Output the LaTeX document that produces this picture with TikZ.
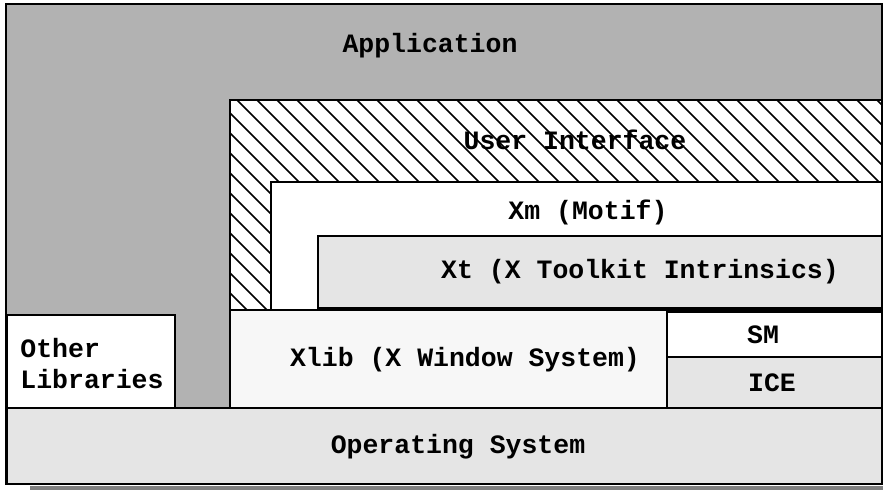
\documentclass[tikz,border=0pt]{standalone}
\usepackage{fontspec}
\setmonofont{Liberation Mono}
\begin{document}
\begin{tikzpicture}[x=0.5pt,y=-0.5pt,
  layer/.style={draw=black,line width=0.75pt},
  hatch/.style={black,line width=0.75pt},
  lbl/.style={font=\ttfamily\bfseries\fontsize{13.25}{15.5}\selectfont,inner sep=0pt}]
  \useasboundingbox (0,0) rectangle (883,490);
  % Application
  \fill[black!50] (30,486) rectangle (883,490);
  \draw[layer,fill=black!30,line width=1pt] (6,4) rectangle (882,484);
  % User Interface (hatched)
  \fill[white] (230,100) rectangle (882,310);
  \begin{scope}
    \clip (230,100) rectangle (882,310);
    \foreach \k in {-11,...,33}
      \draw[hatch] ({237+20*\k},100) -- ++(300,300);
  \end{scope}
  \draw[layer] (230,100) rectangle (882,310);
  % Xm and Xt
  \draw[layer,fill=white] (271,182) rectangle (882,310);
  \draw[layer,fill=black!10] (318,236) rectangle (882,308);
  % Xlib, SM, ICE
  \draw[layer,fill=black!3] (230,310) rectangle (667,408);
  \draw[layer,fill=white] (667,312) rectangle (882,357);
  \draw[layer,fill=black!10] (667,357) rectangle (882,408);
  % Other Libraries
  \draw[layer,fill=white] (7,315) rectangle (175,408);
  % Operating System
  \draw[layer,fill=black!10,line width=1pt] (7,408) rectangle (882,484);
  % labels
  \node[lbl] (app) at (430,46) {Application};
  \node[lbl] (ui) at (575,140) {User Interface};
  \node[lbl] (xm) at (588,212) {Xm (Motif)};
  \node[lbl] (xt) at (640,272) {Xt (X Toolkit Intrinsics)};
  \node[lbl] (xlib) at (465,360) {Xlib (X Window System)};
  \node[lbl] (sm) at (763,335) {SM};
  \node[lbl] (ice) at (772,383) {ICE};
  \node[lbl,anchor=west,align=left] (other) at (20,364) {Other\\Libraries};
  \node[lbl] (os) at (458,447) {Operating System};
\end{tikzpicture}
\end{document}
